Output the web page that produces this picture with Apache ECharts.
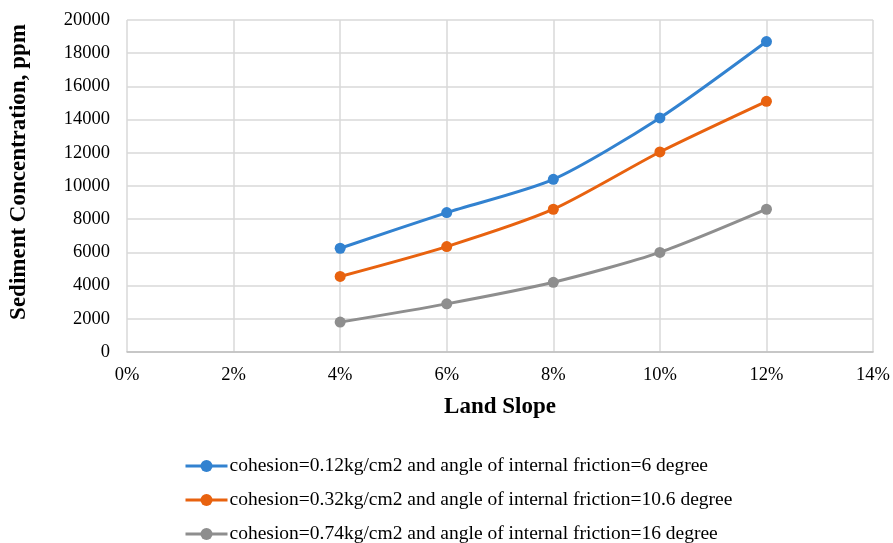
<!DOCTYPE html>
<html>
<head>
<meta charset="utf-8">
<script src="https://cdn.jsdelivr.net/npm/echarts@6/dist/echarts.min.js"></script>
<style>
  html, body { margin: 0; padding: 0; background: #fff; }
  #chart { width: 893px; height: 543px; }
</style>
</head>
<body>
<div id="chart"></div>
<script>
var slopes = [4, 6, 8, 10, 12];   // land slope, %
var names = [
    'cohesion=0.12kg/cm2 and angle of internal friction=6 degree',
    'cohesion=0.32kg/cm2 and angle of internal friction=10.6 degree',
    'cohesion=0.74kg/cm2 and angle of internal friction=16 degree'
];
var conc1 = [6250, 8400, 10400, 14100, 18700];
var conc2 = [4550, 6350, 8600, 12050, 15100];
var conc3 = [1800, 2900, 4200, 6000, 8600];
var colors = ['#3282d0', '#e8620f', '#8e8e8e'];

var font = 'Liberation Serif, Times New Roman, serif';

function pairs(vals) {
    var out = [];
    for (var i = 0; i < slopes.length; i++) {
        out.push([slopes[i], vals[i]]);
    }
    return out;
}

function makeSeries(name, vals, color) {
    return {
        name: name,
        type: 'line',
        smooth: 0.25,
        symbol: 'circle',
        symbolSize: 11,
        data: pairs(vals),
        itemStyle: { color: color },
        lineStyle: { color: color, width: 3 }
    };
}

// one legend per row so nothing wraps into columns
function makeLegend(name, top) {
    return {
        orient: 'vertical',
        left: 184,
        top: top,
        padding: 0,
        itemWidth: 42,
        itemHeight: 15,
        lineStyle: { width: 3 },
        textStyle: { fontFamily: font, fontSize: 19.5, color: '#000', padding: [0, 0, 0, -3] },
        data: [name]
    };
}

var option = {
    animation: false,
    textStyle: { fontFamily: font },
    grid: {
        left: 127,
        right: 17,
        top: 20,
        bottom: 191
    },
    legend: [
        makeLegend(names[0], 456),
        makeLegend(names[1], 490),
        makeLegend(names[2], 524)
    ],
    xAxis: {
        type: 'value',
        min: 0,
        max: 14,
        interval: 2,
        name: 'Land Slope',
        nameLocation: 'middle',
        nameGap: 44,
        nameTextStyle: { fontFamily: font, fontSize: 23, fontWeight: 'bold', color: '#000' },
        axisLine: { show: true, lineStyle: { color: '#bfbfbf', width: 1.5 } },
        axisTick: { show: false },
        axisLabel: {
            fontFamily: font, fontSize: 18.5, color: '#000', margin: 14,
            formatter: function (v) { return v + '%'; }
        },
        splitLine: { show: true, lineStyle: { color: '#d9d9d9', width: 1.5 } }
    },
    yAxis: {
        type: 'value',
        min: 0,
        max: 20000,
        interval: 2000,
        name: 'Sediment Concentration, ppm',
        nameLocation: 'middle',
        nameGap: 96,
        nameTextStyle: {
            fontFamily: font, fontSize: 23, fontWeight: 'bold', color: '#000',
            padding: [0, 0, 0, 28]
        },
        axisLine: { show: false },
        axisTick: { show: false },
        axisLabel: {
            fontFamily: font, fontSize: 18.5, color: '#000', margin: 17,
            formatter: function (v) { return String(v); }
        },
        splitLine: { show: true, lineStyle: { color: '#d9d9d9', width: 1.5 } }
    },
    series: [
        makeSeries(names[0], conc1, colors[0]),
        makeSeries(names[1], conc2, colors[1]),
        makeSeries(names[2], conc3, colors[2])
    ]
};

var myChart = echarts.init(document.getElementById('chart'));
myChart.setOption(option);
</script>
</body>
</html>
